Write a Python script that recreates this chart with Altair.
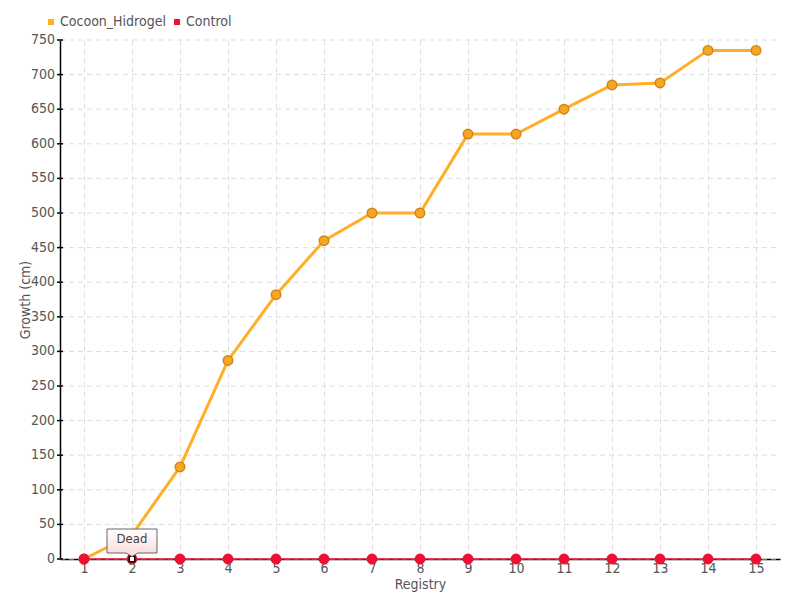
import altair as alt
import pandas as pd

registry = list(range(1, 16))
cocoon = [0, 35, 133, 287, 382, 460, 500, 500, 614, 614, 650, 685, 688, 735, 735]
control = [0] * 15
series_names = ["Cocoon_Hidrogel", "Control"]
colors = ["#FFAE25", "#EE1133"]
y_ticks = list(range(0, 751, 50))
note_text = "Dead"
note_at = 2

df = pd.DataFrame({
    "Registry": registry * 2,
    "Growth": cocoon + control,
    "Series": [series_names[0]] * 15 + [series_names[1]] * 15,
})
note = pd.DataFrame({"Registry": [note_at], "Growth": [control[note_at - 1]], "label": [note_text]})
ticks_df = pd.DataFrame({"Growth": y_ticks, "lab": [str(v) for v in y_ticks]})

FONT = "DejaVu Sans Condensed, DejaVu Sans, sans-serif"
TXT = "#555555"
W, H = 720, 519

xenc = alt.X("Registry:Q", scale=alt.Scale(domain=[0.5, 15.5], nice=False, zero=False),
             axis=alt.Axis(values=registry, title="Registry", grid=True, tickSize=0,
                           labelPadding=2, titlePadding=2, format="d", labelOverlap=False))
yenc = alt.Y("Growth:Q", scale=alt.Scale(domain=[0, 750], nice=False),
             axis=alt.Axis(values=y_ticks, title="Growth (cm)", grid=False, ticks=False,
                           labels=False, titleX=-35, titleY=H / 2, titleBaseline="middle",
                           titleAngle=270))

# manual y grid / ticks / labels driven by y_ticks through the y scale
tb = alt.Chart(ticks_df).encode(y=yenc)
ygrid = tb.mark_rule(color="#dddddd", strokeDash=[5, 4], strokeWidth=1).encode(
    x=alt.value(0), x2=alt.value(W))
ytick = tb.mark_rule(color="black", strokeWidth=1.5).encode(x=alt.value(-3), x2=alt.value(3))
ylab = tb.mark_text(align="right", baseline="middle", dx=-5, fontSize=14, font=FONT,
                    color=TXT).encode(x=alt.value(0), text="lab:N")

base = alt.Chart(df).encode(x=xenc, y=yenc)
c_data = base.transform_filter(alt.datum.Series == series_names[0])
r_data = base.transform_filter(alt.datum.Series == series_names[1])
c_line = c_data.mark_line(strokeWidth=3, color=colors[0])
c_pts = c_data.mark_point(filled=True, size=90, fill="#F5A623", stroke="#D0861A",
                          strokeWidth=1.5, opacity=1)
r_line = r_data.mark_line(strokeWidth=1.5, color=colors[1])
r_pts = r_data.mark_point(filled=True, size=80, fill=colors[1], stroke=colors[1], opacity=1)
leg = base.mark_square(opacity=0, size=10).encode(
    color=alt.Color("Series:N", scale=alt.Scale(domain=series_names, range=colors),
                    legend=alt.Legend(orient="none", legendX=-16, legendY=-25, direction="horizontal",
                                      title=None, symbolType="square", symbolSize=36,
                                      symbolOpacity=1, labelFontSize=14, labelColor=TXT,
                                      labelFont=FONT, columnPadding=4, labelOffset=2)))

nbase = alt.Chart(note).encode(x=xenc, y=yenc)
hl = nbase.mark_point(shape="square", size=30, filled=True, fill="white",
                      stroke="black", strokeWidth=1.5, opacity=1)
box_path = "M -0.833 -1 L 0.833 -1 L 0.833 -0.2 L 0.2 -0.2 L 0 -0.08 L -0.2 -0.2 L -0.833 -0.2 Z"
box = nbase.mark_point(
    shape=box_path, size=3600, filled=True, opacity=1,
    fill=alt.Gradient(gradient="linear", stops=[alt.GradientStop(color="#ffffff", offset=0),
                                                 alt.GradientStop(color="#fbd8d8", offset=1)],
                      x1=0, y1=0, x2=0, y2=1),
    stroke="#666666", strokeWidth=1)
txt = nbase.mark_text(dy=-20, fontSize=13, font=FONT, color="#444444").encode(text="label:N")

chart = alt.layer(ygrid, ytick, ylab, c_line, c_pts, r_line, r_pts, leg, hl, box, txt).properties(
    width=W, height=H,
    autosize=alt.AutoSizeParams(type="none"),
    padding={"left": 52, "top": 32, "right": 12, "bottom": 33},
).configure_view(stroke=None).configure_axis(
    domainColor="black", domainWidth=1.5, tickColor="black", tickWidth=1.5,
    gridColor="#dddddd", gridDash=[5, 4], gridWidth=1,
    labelFont=FONT, labelFontSize=14, labelColor=TXT,
    titleFont=FONT, titleFontSize=14, titleColor=TXT, titleFontWeight="normal",
)

chart.save("out.html", embed_options={"renderer": "svg", "actions": False})
